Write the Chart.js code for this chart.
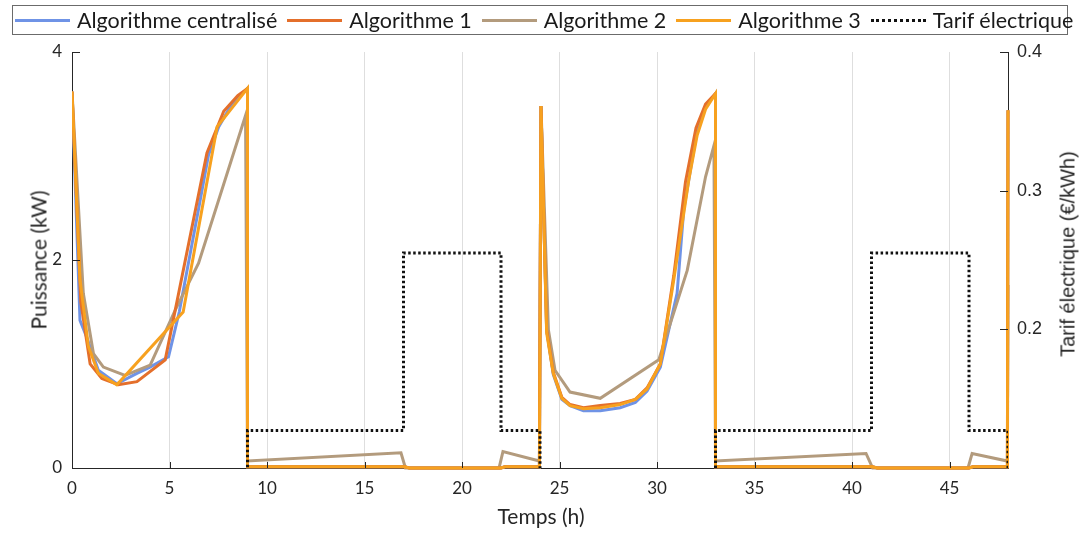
<!DOCTYPE html>
<html>
<head>
<meta charset="utf-8">
<script src="https://cdn.jsdelivr.net/npm/chart.js@4/dist/chart.umd.min.js"></script>
<style>
  body { margin: 0; background: #fff; }
  #wrap { position: relative; width: 1080px; height: 533px; }
  #legend {
    position: absolute; left: 12px; top: 5px; width: 1054px; height: 28px;
    border: 1px solid #6b6b6b; display: flex; align-items: center;
    font-family: Lato, sans-serif; font-size: 21.5px; color: #1a1a1a;
  }
  .item { display: flex; align-items: center; margin-left: 2px; margin-right: 8px; white-space: nowrap; }
  .swatch { width: 55px; height: 0; margin-right: 7px; }
  .ttl { position: absolute; white-space: nowrap; color: #262626; transform: translate(-50%, -50%); }
  .rot { transform: translate(-50%, -50%) rotate(-90deg); }
</style>
</head>
<body>
<div id="wrap">
  <canvas id="chart" width="1080" height="533"></canvas>
  <div id="legend"></div>
  <div class="ttl" style="left:541px; top:515px; font-family:Lato,sans-serif; font-size:21px;">Temps (h)</div>
  <div class="ttl rot" style="left:38px; top:260px; font-family:Lato,sans-serif; font-size:21px;">Puissance (kW)</div>
  <div class="ttl rot" style="left:1068px; top:254px; font-family:'Liberation Sans',Arial,sans-serif; font-size:20px;">Tarif électrique (€/kWh)</div>
</div>
<script>
//////////////
// Data

// Algorithme centralisé
var centralTimes = [0, 0.41, 0.75, 1.35, 2.3, 3.33, 4.0, 4.95, 5.5, 6.0, 6.5, 7.0, 7.52, 8.2, 9, 9, 17.05, 17.3, 22.0, 22.2, 23.97,
    24.05, 24.34, 24.68, 25.12, 25.54, 26.23, 27.09, 28.11, 28.89, 29.49, 30.17, 31.03, 31.37, 32.06, 32.49, 33, 33,
    41.05, 41.3, 46.0, 46.2, 47.97, 48];
var centralPower = [3.62, 1.42, 1.26, 0.94, 0.81, 0.91, 0.97, 1.07, 1.5, 2.0, 2.5, 3.01, 3.28, 3.5, 3.65, 0.012, 0.012, 0, 0, 0.012, 0.012,
    3.48, 1.33, 0.9, 0.66, 0.6, 0.55, 0.55, 0.58, 0.63, 0.74, 0.97, 1.68, 2.48, 3.25, 3.47, 3.6, 0.012,
    0.012, 0, 0, 0.012, 0.012, 3.44];

// Algorithme 1
var algo1Times = [0, 0.45, 0.93, 1.53, 2.38, 3.33, 4.78, 6.92, 7.78, 8.5, 9, 9, 17.05, 17.3, 22.0, 22.2, 23.97,
    24.05, 24.34, 24.68, 25.12, 25.54, 26.23, 27.09, 28.11, 28.89, 29.49, 30.17, 30.86, 31.46, 32.0, 32.49, 33, 33,
    41.05, 41.3, 46.0, 46.2, 47.97, 48];
var algo1Power = [3.62, 1.6, 1.0, 0.86, 0.8, 0.83, 1.04, 3.03, 3.43, 3.58, 3.65, 0.012, 0.012, 0, 0, 0.012, 0.012,
    3.48, 1.33, 0.92, 0.68, 0.61, 0.58, 0.6, 0.62, 0.66, 0.77, 1.0, 1.85, 2.75, 3.27, 3.5, 3.6, 0.012,
    0.012, 0, 0, 0.012, 0.012, 3.44];

// Algorithme 2
var algo2Times = [0, 0.58, 1.1, 1.61, 2.72, 4.01, 5.3, 6.49, 8.9, 9, 16.87, 17.1, 21.9, 22.1, 23.97,
    24.05, 24.43, 24.77, 25.54, 27.09, 30.09, 31.55, 32.49, 32.92, 33, 40.72, 41.06, 45.95, 46.16, 47.97, 48];
var algo2Power = [3.62, 1.68, 1.1, 0.97, 0.89, 0.99, 1.52, 1.97, 3.39, 0.067, 0.147, 0, 0, 0.157, 0.067,
    3.48, 1.33, 0.94, 0.73, 0.67, 1.04, 1.9, 2.8, 3.1, 0.067, 0.14, 0, 0, 0.14, 0.067, 1.76];

// Algorithme 3
var algo3Times = [0, 0.41, 0.84, 1.35, 2.3, 5.7, 7.44, 9, 9, 17.05, 17.3, 22.0, 22.2, 23.97,
    24.05, 24.34, 24.68, 25.12, 25.54, 26.23, 27.09, 28.11, 28.89, 29.49, 30.17, 30.86, 31.63, 32.06, 32.49, 33, 33,
    41.05, 41.3, 46.0, 46.2, 47.97, 48];
var algo3Power = [3.62, 1.81, 1.17, 0.91, 0.8, 1.5, 3.28, 3.65, 0.012, 0.012, 0, 0, 0.012, 0.012,
    3.48, 1.3, 0.91, 0.67, 0.6, 0.57, 0.58, 0.61, 0.66, 0.76, 1.0, 1.81, 2.77, 3.2, 3.45, 3.6, 0.012,
    0.012, 0, 0, 0.012, 0.012, 3.44];

// Tarif électrique (below 0.1 it falls outside the right axis)
var tarifTimes = [0, 9, 9, 17, 17, 22, 22, 24, 24, 33, 33, 41, 41, 46, 46, 48, 48];
var tarifValues = [0.09, 0.09, 0.127, 0.127, 0.255, 0.255, 0.127, 0.127, 0.09, 0.09, 0.127, 0.127, 0.255, 0.255, 0.127, 0.127, 0.09];

// Axis ticks
var hourTicks = [0, 5, 10, 15, 20, 25, 30, 35, 40, 45];
var powerTicks = [0, 2, 4];
var tarifTicks = [0.2, 0.3, 0.4];

var seriesNames = ['Algorithme centralisé', 'Algorithme 1', 'Algorithme 2', 'Algorithme 3', 'Tarif électrique'];
var seriesColors = ['#6f93e6', '#e46f2b', '#b39b7d', '#f7a11f', '#111111'];

function zip(xs, ys) {
    return xs.map(function (x, i) { return { x: x, y: ys[i] }; });
}

// Legend (html, boxed like the original)
var legend = document.getElementById('legend');
seriesNames.forEach(function (name, i) {
    var item = document.createElement('div');
    item.className = 'item';
    var sw = document.createElement('div');
    sw.className = 'swatch';
    sw.style.borderTop = i === 4 ? '3px dotted ' + seriesColors[i] : '3px solid ' + seriesColors[i];
    item.appendChild(sw);
    var label = document.createElement('span');
    label.textContent = name;
    item.appendChild(label);
    legend.appendChild(item);
});

// Small inward tick marks like matlab axes
var inwardTicks = {
    id: 'inwardTicks',
    afterDraw: function (chart) {
        var ctx = chart.ctx;
        var area = chart.chartArea;
        var x = chart.scales.x, y = chart.scales.y, y1 = chart.scales.y1;
        ctx.save();
        ctx.strokeStyle = '#262626';
        ctx.lineWidth = 1;
        ctx.beginPath();
        hourTicks.forEach(function (t) {
            if (t === 0) return;
            var px = Math.round(x.getPixelForValue(t)) + 0.5;
            ctx.moveTo(px, area.bottom);
            ctx.lineTo(px, area.bottom - 6);
        });
        powerTicks.forEach(function (p) {
            if (p === 0) return;
            var py = Math.round(y.getPixelForValue(p)) + 0.5;
            ctx.moveTo(area.left, py);
            ctx.lineTo(area.left + 8, py);
        });
        tarifTicks.forEach(function (v) {
            var py = Math.round(y1.getPixelForValue(v)) + 0.5;
            ctx.moveTo(area.right, py);
            ctx.lineTo(area.right - 8, py);
        });
        ctx.stroke();
        ctx.restore();
    }
};

var powerSets = [
    [centralTimes, centralPower, 4],
    [algo1Times, algo1Power, 2],
    [algo2Times, algo2Power, 3],
    [algo3Times, algo3Power, 1]
];

var datasets = powerSets.map(function (s, i) {
    return {
        label: seriesNames[i],
        data: zip(s[0], s[1]),
        borderColor: seriesColors[i],
        borderWidth: 3,
        order: s[2],
        yAxisID: 'y',
        clip: { left: 0, top: 0, right: 3, bottom: 3 },
    };
});
datasets.push({
    label: seriesNames[4],
    data: zip(tarifTimes, tarifValues),
    borderColor: seriesColors[4],
    borderWidth: 3,
    borderDash: [2.5, 2.5],
    borderCapStyle: 'butt',
    order: 0,
    yAxisID: 'y1',
});

var tickFont = { family: 'Lato, sans-serif', size: 17 };

new Chart(document.getElementById('chart'), {
    type: 'line',
    data: { datasets: datasets },
    options: {
        responsive: false,
        animation: false,
        elements: { point: { radius: 0 }, line: { tension: 0 } },
        layout: { padding: { top: 52, left: 0, right: 0, bottom: 0 } },
        plugins: { legend: { display: false }, tooltip: { enabled: false } },
        scales: {
            x: {
                type: 'linear',
                min: 0,
                max: 48,
                afterFit: function (scale) { scale.height = 65; },
                afterBuildTicks: function (scale) { scale.ticks = hourTicks.map(function (v) { return { value: v }; }); },
                ticks: { font: tickFont, color: '#262626', padding: 10, maxRotation: 0, autoSkip: false },
                grid: { color: '#dedede', lineWidth: 1, drawTicks: false },
                border: { color: '#262626', width: 1 },
            },
            y: {
                position: 'left',
                min: 0,
                max: 4,
                afterFit: function (scale) { scale.width = 72; },
                afterBuildTicks: function (scale) { scale.ticks = powerTicks.map(function (v) { return { value: v }; }); },
                ticks: { font: tickFont, color: '#262626', padding: 10 },
                grid: { display: false, drawTicks: false },
                border: { color: '#262626', width: 1 },
            },
            y1: {
                position: 'right',
                min: 0.1,
                max: 0.4,
                afterFit: function (scale) { scale.width = 72; },
                afterBuildTicks: function (scale) { scale.ticks = tarifTicks.map(function (v) { return { value: v }; }); },
                ticks: {
                    font: { family: "'Liberation Sans', Arial, sans-serif", size: 18 },
                    color: '#262626',
                    padding: 9,
                    callback: function (v) { return v.toFixed(1); },
                },
                grid: { display: false, drawTicks: false },
                border: { color: '#262626', width: 1 },
            },
        },
    },
    plugins: [inwardTicks],
});
</script>
</body>
</html>
